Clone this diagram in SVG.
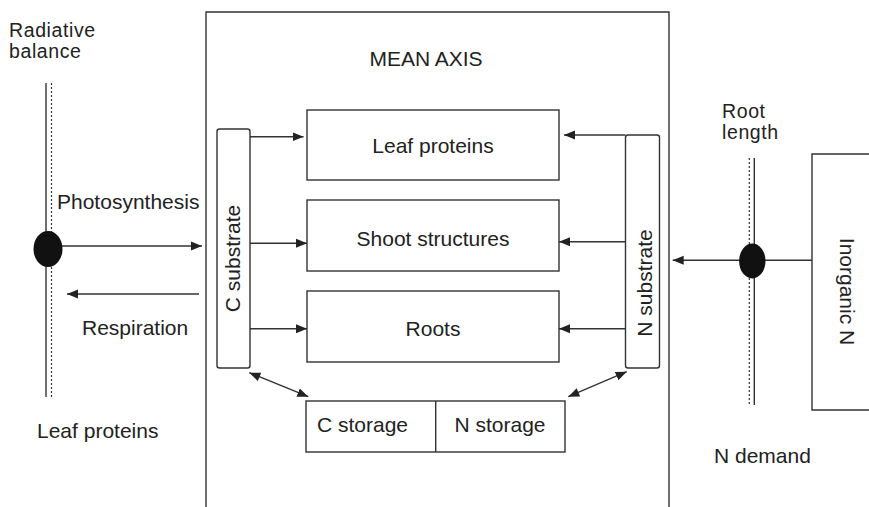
<svg xmlns="http://www.w3.org/2000/svg" width="869" height="507" viewBox="0 0 869 507">
<style>
  text { font-family: "Liberation Sans", Arial, sans-serif; font-size: 21px; fill: #222; }
  .two { font-size: 19.5px; letter-spacing: 0.6px; }
  .box { fill: #fff; stroke: #333; stroke-width: 1.4; }
  .ln { fill: none; stroke: #333; stroke-width: 1.4; }
  .dot { fill: none; stroke: #333; stroke-width: 1.2; stroke-dasharray: 2 2; }
  .arr { fill: none; stroke: #333; stroke-width: 1.4; marker-end: url(#ah); }
  .arr2 { fill: none; stroke: #333; stroke-width: 1.4; marker-start: url(#ahs); marker-end: url(#ah); }
  .mid { text-anchor: middle; }
</style>
<defs>
  <marker id="ah" markerUnits="userSpaceOnUse" markerWidth="12" markerHeight="10" refX="11" refY="5" orient="auto">
    <path d="M0,0.5 L11,5 L0,9.5 Z" fill="#222"/>
  </marker>
  <marker id="ahs" markerUnits="userSpaceOnUse" markerWidth="12" markerHeight="10" refX="0" refY="5" orient="auto">
    <path d="M11,0.5 L0,5 L11,9.5 Z" fill="#222"/>
  </marker>
</defs>
<rect width="869" height="507" fill="#fff"/>

<g id="mean-axis">
  <path class="ln" d="M206,507 L206,12 L669,12 L669,507"/>
  <text x="426" y="66" class="mid">MEAN AXIS</text>
</g>

<g id="radiative-balance">
  <text class="two" x="9" y="37">Radiative</text>
  <text class="two" x="9" y="58">balance</text>
  <line class="ln" x1="46" y1="83" x2="46" y2="397"/>
  <line class="dot" x1="51.5" y1="83" x2="51.5" y2="397"/>
  <ellipse cx="48" cy="249" rx="14.5" ry="18" fill="#111"/>
</g>

<g id="labels-left">
  <text x="57" y="209">Photosynthesis</text>
  <text x="82" y="335">Respiration</text>
  <text x="37" y="438">Leaf proteins</text>
</g>

<g id="c-substrate">
  <rect class="box" x="217" y="129" width="33" height="239" rx="2.5"/>
  <text class="mid" transform="translate(239.5,258.5) rotate(-90)">C substrate</text>
</g>

<g id="n-substrate">
  <rect class="box" x="625.5" y="135" width="34" height="233" rx="2.5"/>
  <text class="mid" transform="translate(652,283) rotate(-90)">N substrate</text>
</g>

<g id="leaf-proteins">
  <rect class="box" x="307" y="110" width="252" height="70"/>
  <text x="433" y="153" class="mid">Leaf proteins</text>
</g>

<g id="shoot-structures">
  <rect class="box" x="307" y="200" width="252" height="71"/>
  <text x="433" y="246" class="mid">Shoot structures</text>
</g>

<g id="roots">
  <rect class="box" x="307" y="291" width="252" height="71"/>
  <text x="433" y="336" class="mid">Roots</text>
</g>

<g id="storage">
  <rect class="box" x="306" y="401" width="259" height="51"/>
  <line class="ln" x1="435.7" y1="401" x2="435.7" y2="452"/>
  <text x="317" y="432">C storage</text>
  <text x="500" y="432" class="mid">N storage</text>
</g>

<g id="root-length">
  <text class="two" x="722" y="118">Root</text>
  <text class="two" x="722" y="139">length</text>
  <line class="dot" x1="749.3" y1="158" x2="749.3" y2="405"/>
  <line class="ln" x1="754.3" y1="158" x2="754.3" y2="405"/>
  <text x="714" y="463">N demand</text>
</g>

<g id="inorganic-n">
  <path class="ln" d="M875,154 L812,154 L812,410 L875,410"/>
  <text class="mid" transform="translate(840,291.5) rotate(90)">Inorganic N</text>
</g>

<g id="connectors">
  <line class="arr" x1="62" y1="246" x2="202" y2="246"/>
  <line class="arr" x1="199" y1="294" x2="67" y2="294"/>
  <line class="arr" x1="250" y1="136.7" x2="303.5" y2="136.7"/>
  <line class="arr" x1="250" y1="243.3" x2="307" y2="243.3"/>
  <line class="arr" x1="250" y1="328.7" x2="307" y2="328.7"/>
  <line class="arr" x1="625.5" y1="135" x2="564" y2="135"/>
  <line class="arr" x1="625.5" y1="241.7" x2="559" y2="241.7"/>
  <line class="arr" x1="625.5" y1="328.7" x2="559" y2="328.7"/>
  <line class="arr2" x1="249.3" y1="372.7" x2="308.3" y2="396.7"/>
  <line class="arr2" x1="568.3" y1="396.7" x2="626.7" y2="371.7"/>
  <line class="arr" x1="812" y1="260.3" x2="672.7" y2="260.3"/>
</g>
<ellipse id="root-node" cx="752.3" cy="261" rx="13.2" ry="17.5" fill="#111"/>
</svg>
